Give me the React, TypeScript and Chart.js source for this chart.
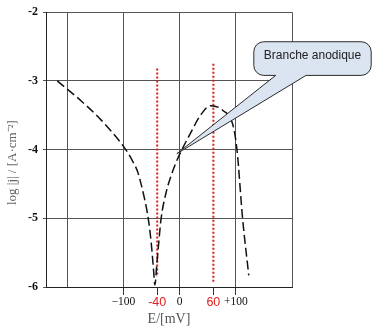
import React, { useEffect, useRef } from 'react';
import { Chart, registerables } from 'chart.js';
Chart.register(...registerables);

// Polarisation curve (E in mV, log|j|)
const cathodicE = [-218, -177, -141, -96, -85, -75, -63, -56, -51, -47, -44];
const cathodicLogJ = [-3.0, -3.28, -3.56, -4.0, -4.15, -4.32, -4.7, -5.0, -5.33, -5.7, -5.97];
const anodicE = [-41, -37, -33, -24, -14, -4, 20, 37, 55, 77, 95, 102, 112, 123];
const anodicLogJ = [-5.7, -5.33, -5.0, -4.62, -4.35, -4.14, -3.75, -3.5, -3.36, -3.43, -3.65, -4.0, -5.0, -5.83];

// Red dotted marker lines
const markerE = [-40, 60];
const markerTop = [-2.82, -2.75];
const markerBottom = [-5.85, -5.93];

// Axis ticks
const xTickValues = [-200, -100, -40, 0, 60, 100, 200];
const xTickLabels = ['', '−100', '-40', '0', '60', '+100', ''];
const xGridValues = [-200, -100, 0, 100, 200];
const xRedTicks = [-40, 60];
const yTickValues = [-2, -3, -4, -5, -6];

// Callout
const calloutText = 'Branche anodique';
const calloutBox = { e1: 132, e2: 341, l1: -2.43, l2: -2.92 };
const calloutBase = { e1: 171, e2: 225 };
const calloutTip = { e: -5, l: -4.06 };

const calloutPlugin = {
  id: 'callout',
  afterDatasetsDraw(chart: any) {
    const { ctx, scales } = chart;
    const xs = scales.x, ys = scales.y;
    const left = xs.getPixelForValue(calloutBox.e1);
    const right = xs.getPixelForValue(calloutBox.e2);
    const top = ys.getPixelForValue(calloutBox.l1);
    const bottom = ys.getPixelForValue(calloutBox.l2);
    const bl = xs.getPixelForValue(calloutBase.e1);
    const br = xs.getPixelForValue(calloutBase.e2);
    const tx = xs.getPixelForValue(calloutTip.e);
    const ty = ys.getPixelForValue(calloutTip.l);
    const r = 10;
    ctx.save();
    ctx.beginPath();
    ctx.moveTo(left + r, top);
    ctx.lineTo(right - r, top);
    ctx.arcTo(right, top, right, top + r, r);
    ctx.lineTo(right, bottom - r);
    ctx.arcTo(right, bottom, right - r, bottom, r);
    ctx.lineTo(br, bottom);
    ctx.lineTo(tx, ty);
    ctx.lineTo(bl, bottom);
    ctx.lineTo(left + r, bottom);
    ctx.arcTo(left, bottom, left, bottom - r, r);
    ctx.lineTo(left, top + r);
    ctx.arcTo(left, top, left + r, top, r);
    ctx.closePath();
    ctx.fillStyle = '#dbe5f1';
    ctx.fill();
    ctx.strokeStyle = '#2b2b2b';
    ctx.lineWidth = 1;
    ctx.stroke();
    ctx.fillStyle = '#222';
    ctx.font = '12px "Liberation Sans", Arial, sans-serif';
    ctx.textAlign = 'center';
    ctx.textBaseline = 'middle';
    ctx.fillText(calloutText, (left + right) / 2, (top + bottom) / 2 - 3);
    ctx.restore();
  },
};

export default function App() {
  const ref = useRef<HTMLCanvasElement>(null);
  useEffect(() => {
    if (!ref.current) return;
    const curve = [
      ...cathodicE.map((e, i) => ({ x: e, y: cathodicLogJ[i] })),
      ...anodicE.map((e, i) => ({ x: e, y: anodicLogJ[i] })),
    ];
    const markers = markerE.map((e, i) => ({
      type: 'line' as const,
      data: [{ x: e, y: markerTop[i] }, { x: e, y: markerBottom[i] }],
      borderColor: '#d81e1e',
      borderWidth: 2,
      borderDash: [2, 2],
      pointRadius: 0,
      tension: 0,
    }));
    const chart = new Chart(ref.current, {
      type: 'line',
      data: {
        datasets: [
          {
            data: curve,
            borderColor: '#111',
            borderWidth: 1.5,
            borderDash: [9, 4],
            pointRadius: 0,
            cubicInterpolationMode: 'monotone',
            fill: false,
          },
          ...markers,
        ] as any,
      },
      options: {
        animation: false,
        responsive: false,
        parsing: true,
        layout: { padding: { top: 8, right: 90, left: 0, bottom: 0 } },
        plugins: { legend: { display: false }, tooltip: { enabled: false } },
        scales: {
          x: {
            type: 'linear',
            min: -238,
            max: 200,
            afterBuildTicks: (scale: any) => {
              scale.ticks = xTickValues.map((v) => ({ value: v }));
            },
            afterFit: (scale: any) => {
              scale.height = 41;
            },
            grid: {
              color: (c: any) => (xGridValues.includes(c.tick?.value) ? '#555' : 'rgba(0,0,0,0)'),
              tickColor: (c: any) => {
                const v = c.tick?.value;
                return v === -200 || v === 200 ? 'rgba(0,0,0,0)' : '#333';
              },
              tickLength: 8,
              lineWidth: 1,
            },
            border: { color: '#222', width: 1 },
            ticks: {
              autoSkip: false,
              maxRotation: 0,
              padding: 0,
              callback: (v: any) => {
                const i = xTickValues.indexOf(Number(v));
                return i >= 0 ? xTickLabels[i] : '';
              },
              color: (c: any) => (xRedTicks.includes(c.tick?.value) ? '#e02020' : '#111'),
              font: (c: any) =>
                xRedTicks.includes(c.tick?.value)
                  ? { family: '"Liberation Sans", Arial, sans-serif', size: 12.5 }
                  : { family: '"Liberation Serif", serif', size: 11.5 },
            },
            title: {
              display: true,
              text: 'E/[mV]',
              color: '#555',
              font: { family: '"Liberation Serif", serif', size: 14 },
              padding: { top: 0, bottom: 0 },
            },
          },
          y: {
            type: 'linear',
            min: -6,
            max: -2,
            afterBuildTicks: (scale: any) => {
              scale.ticks = yTickValues.map((v) => ({ value: v }));
            },
            afterFit: (scale: any) => {
              scale.width = 46;
            },
            grid: { color: '#555', tickLength: 3, lineWidth: 1 },
            border: { color: '#222', width: 1 },
            ticks: {
              padding: 5,
              color: '#111',
              font: { family: '"Liberation Serif", serif', size: 12, weight: 'bold' },
              callback: (v: any) => String(v),
            },
            title: {
              display: true,
              text: 'log |j| / [A·cm⁻²]        ',
              color: '#666',
              font: { family: '"Liberation Serif", serif', size: 13 },
              padding: { top: 5, bottom: 0 },
            },
          },
        },
      } as any,
      plugins: [
        {
          id: 'bg',
          beforeDraw(c: any) {
            const g = c.ctx;
            g.save();
            g.fillStyle = '#fff';
            g.fillRect(0, 0, c.width, c.height);
            g.restore();
          },
        },
        calloutPlugin,
      ],
    });
    return () => chart.destroy();
  }, []);
  return (
    <div style={{ position: 'fixed', left: 0, top: 0, width: 382, height: 328, background: '#fff' }}>
      <canvas ref={ref} width={382} height={328} style={{ display: 'block' }} />
    </div>
  );
}
